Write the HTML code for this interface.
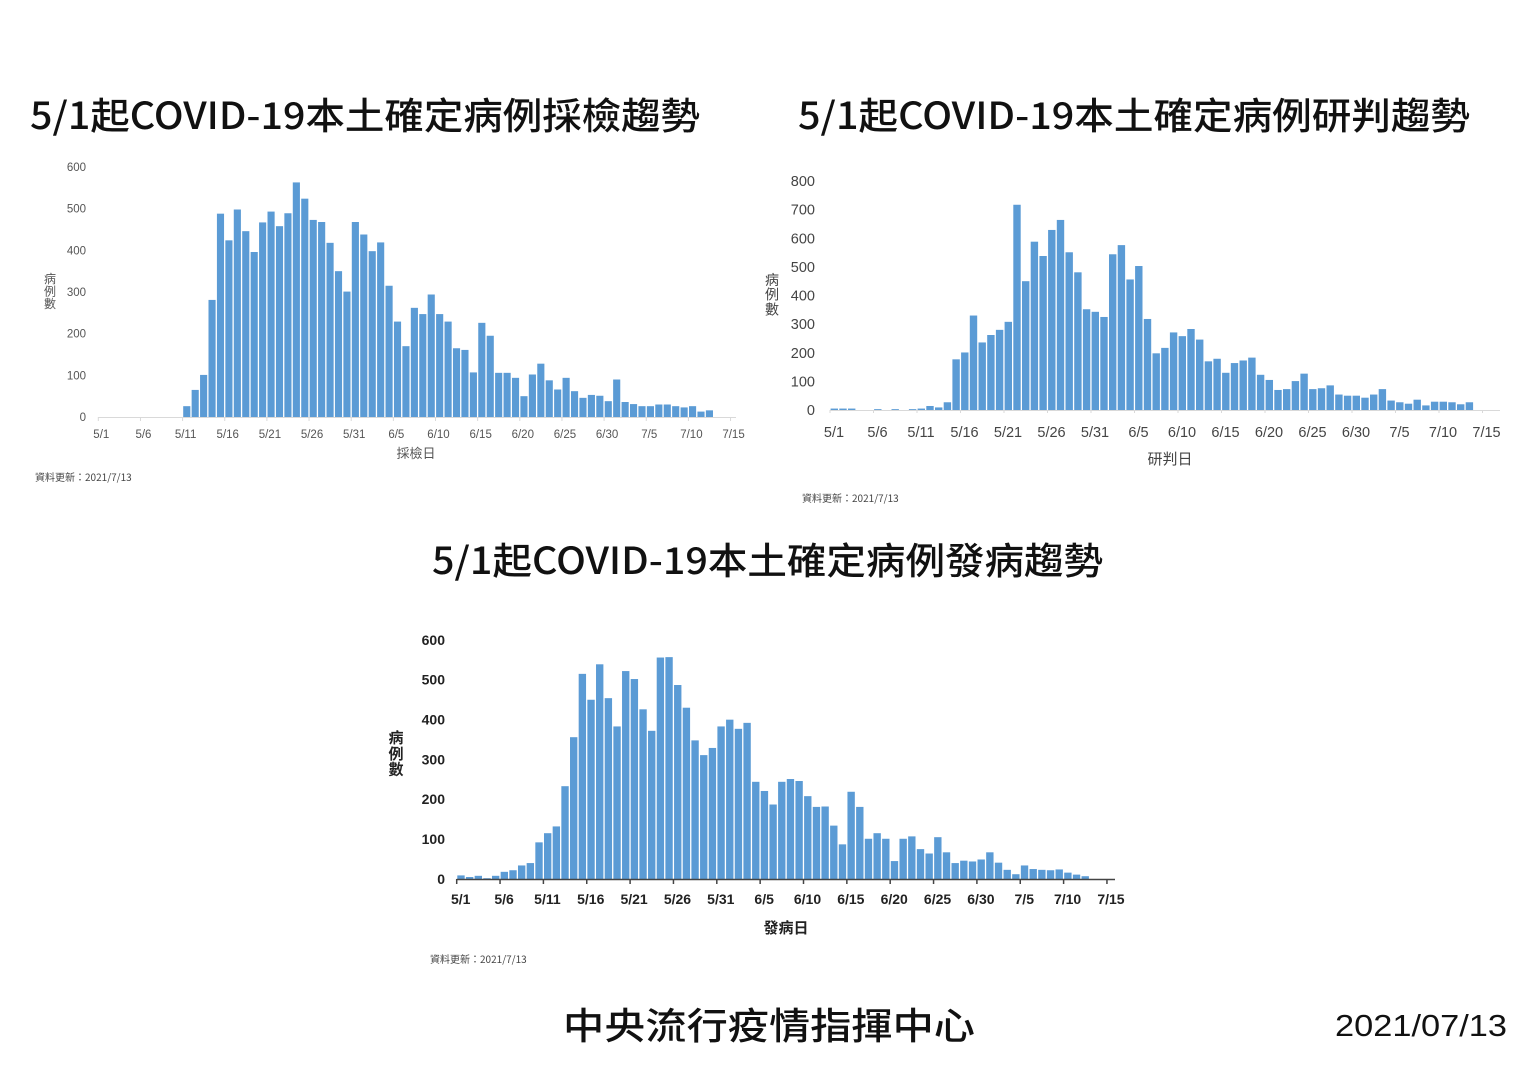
<!DOCTYPE html>
<html><head><meta charset="utf-8"><style>
html,body{margin:0;padding:0;background:#fff}
svg{display:block}
text{font-family:"Liberation Sans","Noto Sans CJK TC",sans-serif}
.cjk{font-family:"Noto Sans CJK TC","Liberation Sans",sans-serif}
.tt{font-weight:500}
</style></head><body>
<svg id="s" width="1536" height="1086" xmlns="http://www.w3.org/2000/svg">
<text x="30" y="129" font-size="37" fill="#111" class="cjk tt" textLength="670" lengthAdjust="spacingAndGlyphs">5/1起COVID-19本土確定病例採檢趨勢</text>
<text x="798" y="129" font-size="37" fill="#111" class="cjk tt" textLength="672" lengthAdjust="spacingAndGlyphs">5/1起COVID-19本土確定病例研判趨勢</text>
<text x="432" y="574" font-size="37" fill="#111" class="cjk tt" textLength="671" lengthAdjust="spacingAndGlyphs">5/1起COVID-19本土確定病例發病趨勢</text>
<text x="563" y="1039" font-size="37" fill="#111" class="cjk tt" textLength="412" lengthAdjust="spacingAndGlyphs">中央流行疫情指揮中心</text>
<text x="1335" y="1036" font-size="31" fill="#111" textLength="172" lengthAdjust="spacingAndGlyphs">2021/07/13</text>
<g id="g"></g>
</svg>
<script>
var NS="http://www.w3.org/2000/svg",G=document.getElementById("g");
function el(t,a,txt){var e=document.createElementNS(NS,t);for(var k in a)e.setAttribute(k,a[k]);if(txt!=null)e.textContent=txt;G.appendChild(e);return e;}
var labels=["5/1","5/6","5/11","5/16","5/21","5/26","5/31","6/5","6/10","6/15","6/20","6/25","6/30","7/5","7/10","7/15"];
function chart(o){
 for(var i=0;i<o.data.length;i++){var v=o.data[i];if(!v)continue;var h=v*o.sy;
  el("rect",{x:o.x0+i*o.p+0.6,y:o.base-h,width:o.p-1.3,height:h,fill:"#5b9bd5"});}
 el("line",{x1:o.x0,y1:o.base+0.5,x2:o.xe,y2:o.base+0.5,stroke:o.ac,"stroke-width":o.aw});
 for(var j=0;j<16;j++){var tx=o.x0+j*5*o.p;
  el("line",{x1:tx,y1:o.base,x2:tx,y2:o.base+o.tl,stroke:o.ac,"stroke-width":o.aw});
  el("text",{x:tx+o.lo,y:o.base+o.ly,"font-size":o.fs,fill:o.fc,"text-anchor":"middle","font-weight":o.fw},labels[j]);}
 for(var k=0;k*o.step<=o.ymax;k++){el("text",{x:o.yx,y:o.base-k*o.step*o.sy+o.fs*0.35,"font-size":o.fs,fill:o.fc,"text-anchor":"end","font-weight":o.fw},""+k*o.step);}
 var t=["病","例","數"];for(var m=0;m<3;m++)el("text",{x:o.tx,y:o.ty+m*o.tfs*1.05,"font-size":o.tfs,fill:o.fc,"text-anchor":"middle","font-weight":o.fw,"class":"cjk"},t[m]);
 el("text",{x:o.xtx,y:o.xty,"font-size":o.xfs,fill:o.fc,"text-anchor":"middle","font-weight":o.fw,"class":"cjk"},o.xt);
 el("text",{x:o.fx,y:o.fy,"font-size":o.ffs,fill:"#444","class":"cjk"},"資料更新：2021/7/13");
}
var d1=[0,0,0,0,0,0,0,0,0,0,26,65,101,281,488,424,498,446,396,467,493,458,489,563,524,473,468,418,350,301,468,438,398,419,315,229,170,262,247,294,247,229,165,161,107,226,195,106,106,94,50,102,128,88,66,94,62,46,53,51,38,90,36,31,26,26,30,30,26,23,26,13,16];
chart({data:d1,x0:98.3,p:8.43,base:417,sy:250/600,xe:736,ac:"#d9d9d9",aw:1,tl:4,lo:3,ly:21,fs:11.5,fc:"#555",fw:"normal",yx:86,step:100,ymax:600,tx:50,ty:283,tfs:12,xtx:416,xty:458,xfs:13,xt:"採檢日",fx:35,fy:481,ffs:10});
var d2=[5,5,5,0,0,3,0,3,0,3,5,14,9,27,177,201,330,236,262,280,308,717,450,588,538,629,664,551,481,352,343,325,544,576,456,503,318,198,217,271,258,283,246,170,179,130,164,173,183,123,105,70,73,101,127,73,76,86,54,50,50,43,54,73,33,27,22,36,16,29,29,27,20,27];
chart({data:d2,x0:830,p:8.7,base:410,sy:229/800,xe:1500,ac:"#d9d9d9",aw:1,tl:3,lo:4,ly:27,fs:14.5,fc:"#444",fw:"normal",yx:815,step:100,ymax:800,tx:772,ty:285,tfs:14,xtx:1170,xty:464,xfs:15,xt:"研判日",fx:802,fy:502,ffs:10});
var d3=[9,5,8,2,8,18,22,34,40,92,115,132,233,356,515,450,539,454,383,522,502,426,372,556,557,487,430,348,311,329,383,400,377,392,244,221,187,244,251,246,208,181,182,134,87,219,181,101,115,101,45,101,107,75,64,105,67,40,46,44,49,67,41,23,12,34,25,23,22,24,16,11,7];
chart({data:d3,x0:456.7,p:8.67,base:879,sy:239/600,xe:1115,ac:"#444",aw:1.5,tl:5,lo:4,ly:25,fs:14,fc:"#222",fw:"bold",yx:445,step:100,ymax:600,tx:396,ty:743,tfs:15,xtx:786,xty:933,xfs:15,xt:"發病日",fx:430,fy:963,ffs:10});
</script>
</body></html>
